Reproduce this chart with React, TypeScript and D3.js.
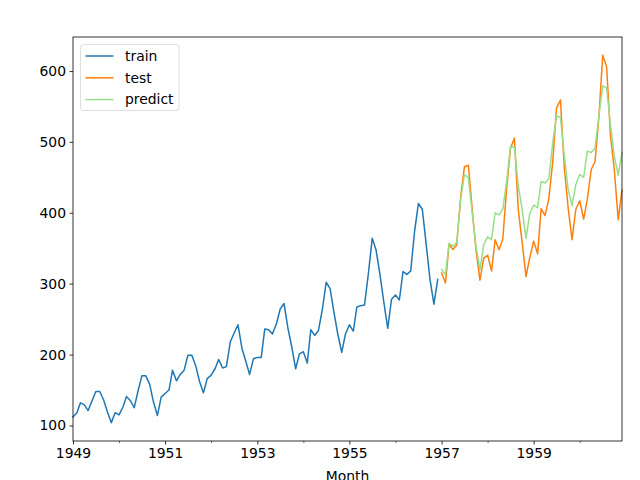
import { useEffect, useRef } from 'react';
import * as d3 from 'd3';

// monthly passengers, 1949-01 .. 1956-12
const trainValues = [
  112, 118, 132, 129, 121, 135, 148, 148, 136, 119, 104, 118,
  115, 126, 141, 135, 125, 149, 170, 170, 158, 133, 114, 140,
  145, 150, 178, 163, 172, 178, 199, 199, 184, 162, 146, 166,
  171, 180, 193, 181, 183, 218, 230, 242, 209, 191, 172, 194,
  196, 196, 236, 235, 229, 243, 264, 272, 237, 211, 180, 201,
  204, 188, 235, 227, 234, 264, 302, 293, 259, 229, 203, 229,
  242, 233, 267, 269, 270, 315, 364, 347, 312, 274, 237, 278,
  284, 277, 317, 313, 318, 374, 413, 405, 355, 306, 271, 306,
];

// 1957-01 .. 1960-12
const testValues = [
  315, 301, 356, 348, 355, 422, 465, 467, 404, 347, 305, 336,
  340, 318, 362, 348, 363, 435, 491, 505, 404, 359, 310, 337,
  360, 342, 406, 396, 420, 472, 548, 559, 463, 407, 362, 405,
  417, 391, 419, 461, 472, 535, 622, 606, 508, 461, 390, 432,
];

const predictValues = [
  320, 313, 357, 353, 358, 418, 454, 449, 400, 352, 320, 355,
  366, 362, 400, 397, 405, 445, 494, 492, 438, 405, 364, 399,
  411, 407, 444, 442, 448, 499, 537, 534, 480, 433, 410, 440,
  454, 450, 487, 485, 491, 537, 579, 576, 523, 480, 453, 485,
];

const yTicks = [100, 200, 300, 400, 500, 600];
const majorYears = [1949, 1951, 1953, 1955, 1957, 1959];
const minorYears = [1950, 1952, 1954, 1956, 1958, 1960];

const seriesNames = ['train', 'test', 'predict'];
const seriesColors = ['#1f77b4', '#ff7f0e', '#98df8a'];

type Pt = { date: Date; value: number };

const toPoints = (values: number[], startYear: number): Pt[] =>
  values.map((v, i) => ({ date: new Date(startYear, i, 1), value: v }));

export default function App() {
  const svgRef = useRef<SVGSVGElement | null>(null);

  useEffect(() => {
    if (!svgRef.current) return;
    const svg = d3.select(svgRef.current);
    svg.selectAll('*').remove();

    const width = 640;
    const height = 480;
    const margin = { top: 37, right: 18, bottom: 39, left: 73 };
    const font = 'DejaVu Sans, sans-serif';

    svg.attr('viewBox', `0 0 ${width} ${height}`);
    svg.append('rect').attr('width', width).attr('height', height).attr('fill', '#fff');

    const train = toPoints(trainValues, 1949);
    const test = toPoints(testValues, 1957);
    const predict = toPoints(predictValues, 1957);
    const all = [...train, ...test, ...predict];

    const x = d3
      .scaleTime()
      .domain([new Date(1949, 0, 1), new Date(1960, 11, 1)])
      .range([margin.left, width - margin.right]);

    const yMin = d3.min(all, (d) => d.value) ?? 0;
    const yMax = d3.max(all, (d) => d.value) ?? 1;
    const pad = (yMax - yMin) * 0.05;
    const y = d3
      .scaleLinear()
      .domain([yMin - pad, yMax + pad])
      .range([height - margin.bottom, margin.top]);

    const line = d3
      .line<Pt>()
      .x((d) => x(d.date))
      .y((d) => y(d.value));

    const plot = svg.append('g');
    [train, test, predict].forEach((data, i) => {
      plot
        .append('path')
        .datum(data)
        .attr('fill', 'none')
        .attr('stroke', seriesColors[i])
        .attr('stroke-width', 1.5)
        .attr('stroke-linejoin', 'round')
        .attr('stroke-linecap', 'square')
        .attr('d', line);
    });

    // x axis: labelled ticks on odd years, minor ticks on even years
    const xAxis = svg
      .append('g')
      .attr('transform', `translate(0,${height - margin.bottom})`)
      .call(
        d3
          .axisBottom(x)
          .tickValues(majorYears.map((yr) => new Date(yr, 0, 1)))
          .tickSize(3.5)
          .tickPadding(3.5)
          .tickFormat((d) => d3.timeFormat('%Y')(d as Date))
      );
    xAxis.select('.domain').remove();
    xAxis.selectAll('text').attr('font-family', font).attr('font-size', 13.9).attr('fill', '#000');
    xAxis.selectAll('line').attr('stroke', '#000').attr('stroke-width', 0.8);

    const xMinor = svg
      .append('g')
      .attr('transform', `translate(0,${height - margin.bottom})`)
      .call(
        d3
          .axisBottom(x)
          .tickValues(minorYears.map((yr) => new Date(yr, 0, 1)).filter((d) => x(d) <= width - margin.right))
          .tickSize(2)
          .tickFormat(() => '')
      );
    xMinor.select('.domain').remove();
    xMinor.selectAll('line').attr('stroke', '#000').attr('stroke-width', 0.6);

    const yAxis = svg
      .append('g')
      .attr('transform', `translate(${margin.left},0)`)
      .call(d3.axisLeft(y).tickValues(yTicks).tickSize(3.5).tickPadding(3.5));
    yAxis.select('.domain').remove();
    yAxis.selectAll('text').attr('font-family', font).attr('font-size', 13.9).attr('fill', '#000');
    yAxis.selectAll('line').attr('stroke', '#000').attr('stroke-width', 0.8);

    // frame
    svg
      .append('rect')
      .attr('x', margin.left)
      .attr('y', margin.top)
      .attr('width', width - margin.left - margin.right)
      .attr('height', height - margin.top - margin.bottom)
      .attr('fill', 'none')
      .attr('stroke', '#000')
      .attr('stroke-width', 0.8);

    svg
      .append('text')
      .attr('x', (margin.left + width - margin.right) / 2)
      .attr('y', 481)
      .attr('text-anchor', 'middle')
      .attr('font-family', font)
      .attr('font-size', 13.9)
      .attr('fill', '#000')
      .text('Month');

    // legend
    const legend = svg.append('g').attr('transform', `translate(${margin.left + 7.5},${margin.top + 7.5})`);
    legend
      .append('rect')
      .attr('width', 98.5)
      .attr('height', 66)
      .attr('rx', 3)
      .attr('fill', '#fff')
      .attr('fill-opacity', 0.8)
      .attr('stroke', '#d6d6d6')
      .attr('stroke-width', 0.8);
    seriesNames.forEach((name, i) => {
      const cy = 11.5 + i * 21.8;
      legend
        .append('line')
        .attr('x1', 5)
        .attr('x2', 33)
        .attr('y1', cy)
        .attr('y2', cy)
        .attr('stroke', seriesColors[i])
        .attr('stroke-width', 1.5);
      legend
        .append('text')
        .attr('x', 44.5)
        .attr('y', cy)
        .attr('dy', '0.35em')
        .attr('font-family', font)
        .attr('font-size', 13.9)
        .attr('fill', '#000')
        .text(name);
    });
  }, []);

  return (
    <svg
      ref={svgRef}
      width={640}
      height={480}
      style={{ position: 'fixed', left: 0, top: 0, display: 'block' }}
      role="img"
      aria-label="Train, test and predict line chart"
    />
  );
}
